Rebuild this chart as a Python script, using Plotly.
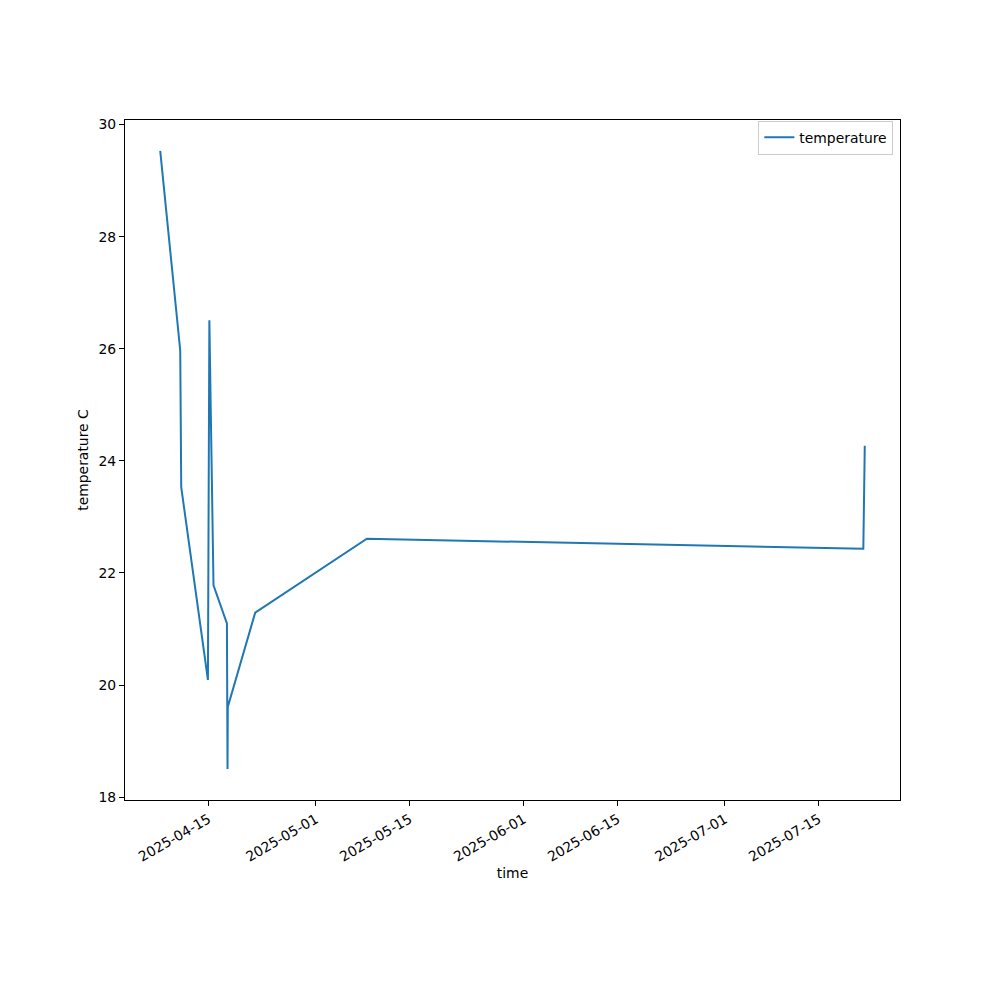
import plotly.graph_objects as go
import pandas as pd

times = [
    "2025-04-07 19:10", "2025-04-10 18:45", "2025-04-10 22:20", "2025-04-14 21:50",
    "2025-04-15 03:00", "2025-04-15 17:50", "2025-04-17 17:50", "2025-04-17 20:00",
    "2025-04-17 21:00", "2025-04-21 23:00", "2025-05-08 14:40", "2025-07-21 15:20",
    "2025-07-21 20:30",
]
temperature = [29.53, 25.97, 23.53, 20.09, 26.51, 21.78, 21.10, 18.50,
               19.61, 21.29, 22.61, 22.43, 24.27]
x_ticks = ["2025-04-15", "2025-05-01", "2025-05-15", "2025-06-01",
           "2025-06-15", "2025-07-01", "2025-07-15"]
y_ticks = [18, 20, 22, 24, 26, 28, 30]

t = pd.to_datetime(times)
span = t.max() - t.min()
x_range = [t.min() - span * 0.05, t.max() + span * 0.05]
ymin, ymax = min(temperature), max(temperature)
yr = ymax - ymin
y_range = [ymin - 0.05 * yr, ymax + 0.05 * yr]

font = dict(family="DejaVu Sans", size=13.9, color="black")

fig = go.Figure()
fig.add_trace(go.Scatter(
    x=t, y=temperature, mode="lines", name="temperature",
    line=dict(color="#1f77b4", width=2),
))

fig.update_layout(
    width=984, height=984,
    margin=dict(l=117, r=92, t=112, b=192),
    paper_bgcolor="white", plot_bgcolor="white",
    font=font,
    showlegend=True,
    legend=dict(
        x=0.9914, y=0.999, xanchor="right", yanchor="top",
        bordercolor="#cccccc", borderwidth=1, bgcolor="rgba(255,255,255,0.8)",
        font=font, tracegroupgap=0,
    ),
)
fig.update_xaxes(
    range=x_range, tickvals=pd.to_datetime(x_ticks), tickformat="%Y-%m-%d",
    tickangle=-30, ticks="outside", ticklen=5, tickcolor="black",
    showline=True, linecolor="black", linewidth=1, mirror=True,
    showgrid=False, zeroline=False,
    title=dict(text="time", font=font, standoff=3),
    tickfont=font,
)
fig.update_yaxes(
    range=y_range, tickvals=y_ticks,
    ticks="outside", ticklen=5, tickcolor="black",
    showline=True, linecolor="black", linewidth=1, mirror=True,
    showgrid=False, zeroline=False,
    title=dict(text="temperature C", font=font, standoff=6),
    tickfont=font,
)

fig.write_html("out.html")
